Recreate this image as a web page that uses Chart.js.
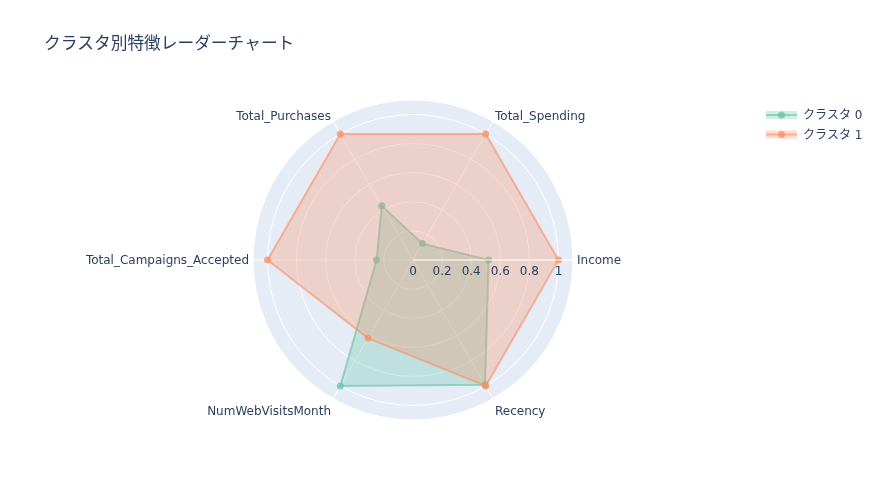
<!DOCTYPE html>
<html><head><meta charset="utf-8">
<script src="https://cdn.jsdelivr.net/npm/chart.js@4.4.1/dist/chart.umd.min.js"></script>
<style>html,body{margin:0;padding:0;background:#fff}#wrap{width:878px;height:500px}</style>
</head><body><div id="wrap"><canvas id="c" width="878" height="500"></canvas></div>
<script>
const categories = ['Income', 'Total_Spending', 'Total_Purchases', 'Total_Campaigns_Accepted', 'NumWebVisitsMonth', 'Recency'];
const cluster0 = [0.52, 0.13, 0.43, 0.25, 1.0, 0.99];
const cluster1 = [1.0, 1.0, 1.0, 1.0, 0.62, 1.0];
const seriesNames = ['クラスタ 0', 'クラスタ 1'];
const radialTicks = [0, 0.2, 0.4, 0.6, 0.8, 1];
const chartTitle = 'クラスタ別特徴レーダーチャート';

const FONT = '"DejaVu Sans", Verdana, "Noto Sans CJK JP", sans-serif';
const TEXT = '#2a3f5f';
const GREEN = [102, 194, 165];
const ORANGE = [252, 141, 98];
const rgba = (c, a) => `rgba(${c[0]},${c[1]},${c[2]},${a})`;

// Chart.js runs clockwise from east; the reference runs counter-clockwise.
const idx = categories.map((_, i) => i);
const orderIdx = [0, ...idx.slice(1).reverse()];
const labels = orderIdx.map(i => categories[i]);
const reorder = arr => orderIdx.map(i => arr[i]);

const polarDecor = {
  id: 'polarDecor',
  afterDatasetsDraw(chart) {
    const s = chart.scales.r;
    const ctx = chart.ctx;
    ctx.save();
    // radial axis line above traces
    const end = s.getPointPosition(0, s.drawingArea);
    ctx.strokeStyle = '#ffffff';
    ctx.lineWidth = 1;
    ctx.beginPath();
    ctx.moveTo(s.xCenter, s.yCenter);
    ctx.lineTo(end.x, end.y);
    ctx.stroke();
    // radial tick labels
    ctx.font = '12px ' + FONT;
    ctx.fillStyle = TEXT;
    ctx.textAlign = 'center';
    ctx.textBaseline = 'middle';
    radialTicks.forEach(v => {
      const p = s.getPointPositionForValue(0, v);
      ctx.fillText(String(v), p.x, p.y + 12);
    });
    // angular labels
    labels.forEach((lab, i) => {
      const p = s.getPointPosition(i, s.drawingArea + 4);
      const dx = p.x - s.xCenter, dy = p.y - s.yCenter;
      ctx.textAlign = Math.abs(dx) < 1 ? 'center' : (dx > 0 ? 'left' : 'right');
      ctx.textBaseline = 'middle';
      const off = Math.abs(dy) < 1 ? 1 : (dy < 0 ? -1.5 : 9.5);
      ctx.fillText(lab, p.x, p.y + off);
    });
    // legend
    chart.data.datasets.forEach((ds, i) => {
      const y = 115 + i * 19.5;
      const x0 = 766, w = 31;
      ctx.fillStyle = ds.backgroundColor;
      ctx.fillRect(x0, y - 4, w, 8);
      ctx.strokeStyle = ds.borderColor;
      ctx.lineWidth = 2;
      ctx.beginPath();
      ctx.moveTo(x0, y);
      ctx.lineTo(x0 + w, y);
      ctx.stroke();
      ctx.fillStyle = ds.pointBackgroundColor;
      ctx.beginPath();
      ctx.arc(x0 + w / 2, y, 3.5, 0, Math.PI * 2);
      ctx.fill();
      ctx.fillStyle = TEXT;
      ctx.textAlign = 'left';
      ctx.textBaseline = 'middle';
      ctx.fillText(ds.label, 803, y + 1);
    });
    ctx.restore();
  }
};

new Chart(document.getElementById('c'), {
  type: 'radar',
  data: {
    labels: labels,
    datasets: [
      {
        label: seriesNames[0], data: reorder(cluster0),
        borderColor: rgba(GREEN, 0.6), backgroundColor: rgba(GREEN, 0.3),
        pointBackgroundColor: rgba(GREEN, 0.75), pointBorderWidth: 0, pointRadius: 3.5,
        borderWidth: 2, fill: true, order: 1
      },
      {
        label: seriesNames[1], data: reorder(cluster1),
        borderColor: rgba(ORANGE, 0.6), backgroundColor: rgba(ORANGE, 0.3),
        pointBackgroundColor: rgba(ORANGE, 0.75), pointBorderWidth: 0, pointRadius: 3.5,
        borderWidth: 2, fill: true, order: 0
      }
    ]
  },
  options: {
    responsive: false,
    animation: false,
    elements: { line: { tension: 0 } },
    layout: { padding: { left: 44, top: 0, right: 0, bottom: 0 } },
    plugins: {
      legend: { display: false },
      tooltip: { enabled: false },
      title: {
        display: true, text: chartTitle, align: 'start', color: TEXT,
        font: { family: FONT, size: 16.7, weight: 'normal' },
        padding: { top: 35, bottom: 10 }
      }
    },
    scales: {
      r: {
        min: 0, max: 1.1, startAngle: 90,
        backgroundColor: '#e5ecf6',
        grid: { color: '#ffffff', circular: true, lineWidth: 1 },
        angleLines: { color: '#ffffff', lineWidth: 1 },
        ticks: { display: false, stepSize: 0.2 },
        pointLabels: { display: false },
        afterFit(s) { s.xCenter = 413; s.yCenter = 260; s.drawingArea = 160; }
      }
    }
  },
  plugins: [polarDecor]
});
</script>
</body></html>
